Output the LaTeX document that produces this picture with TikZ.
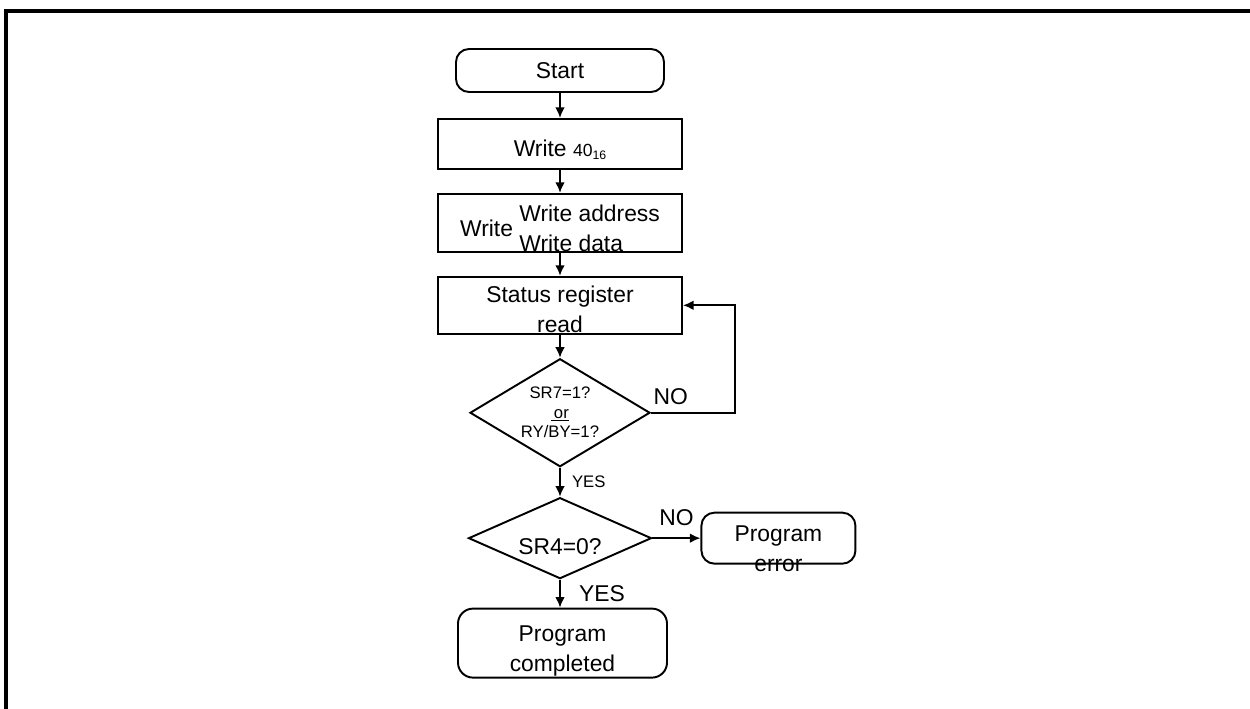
\documentclass[tikz,border=0pt]{standalone}
\usepackage{fontspec}
\setmainfont{Liberation Sans}
\usetikzlibrary{arrows.meta,positioning,shapes.geometric}
% text that may run over the border of its shape
\newcommand{\ovr}[2][0pt]{\makebox[0pt]{\raisebox{#1}[0pt][0pt]{\begin{tabular}{@{}c@{}}#2\end{tabular}}}}

\begin{document}
\begin{tikzpicture}[>={Latex[length=6pt,width=5.5pt]},line width=1.1pt,
 font=\fontsize{13}{17}\selectfont,
 box/.style={draw,minimum width=4.88cm,inner sep=0pt,align=center},
 term/.style={draw,rounded corners=0.26cm,inner sep=0pt,align=center},
 decision/.style={draw,diamond,inner sep=0pt,align=center}]
\useasboundingbox (0,0) rectangle (25,-14.18);
\draw[line width=2pt](0.12,-14.4)--(0.12,-0.22)--(25.2,-0.22);
\node[term,minimum width=4.16cm,minimum height=0.86cm](start) at (11.2,-1.41){Start};
\node[box,minimum height=1cm,below=0.5cm of start](w40){\ovr[-7pt]{Write {\fontsize{10}{11}\selectfont 40\raisebox{-1.5pt}{\fontsize{7}{7}\selectfont 16}}}};
\node[box,minimum height=1.16cm,below=0.46cm of w40](wad){\ovr[-7.5pt]{Write \begin{tabular}{@{}l@{}}Write address\\Write data\end{tabular}}};
\node[box,minimum height=1.14cm,below=0.46cm of wad](status){\ovr[-6.4pt]{Status register\\read}};
\node[decision,minimum width=3.6cm,minimum height=2.16cm,below=0.46cm of status](d1){{\fontsize{9.5}{11.3}\selectfont\ovr[-3pt]{SR7=1?\\\underline{\,or}\\RY/BY=1?}}};
\node[decision,minimum width=3.66cm,minimum height=1.62cm,below=0.58cm of d1](d2){\ovr[-8.7pt]{SR4=0?}};
\node[term,minimum width=3.08cm,minimum height=1.02cm,right=0.96cm of d2](err){\ovr[-9.8pt]{Program\\error}};
\node[term,rounded corners=0.3cm,minimum width=4.18cm,minimum height=1.38cm,below=0.56cm of d2,xshift=0.05cm](done){\ovr[-7.3pt]{Program\\completed}};
\draw[->](start)--(w40);\draw[->](w40)--(wad);\draw[->](wad)--(status);\draw[->](status)--(d1);
\draw[->](d1.east) node[above right,inner sep=1pt,yshift=3pt]{NO} -- ++(1.68,0) |- (status.east);
\draw[->](d1)--node[right=3pt,font=\fontsize{9.5}{11}\selectfont]{YES}(d2);
\draw[->](d2)--node[above=3pt]{NO}(err);
\draw[->](d2.south)--node[right=7pt]{YES}(d2.south|-done.north);
\end{tikzpicture}
\end{document}
